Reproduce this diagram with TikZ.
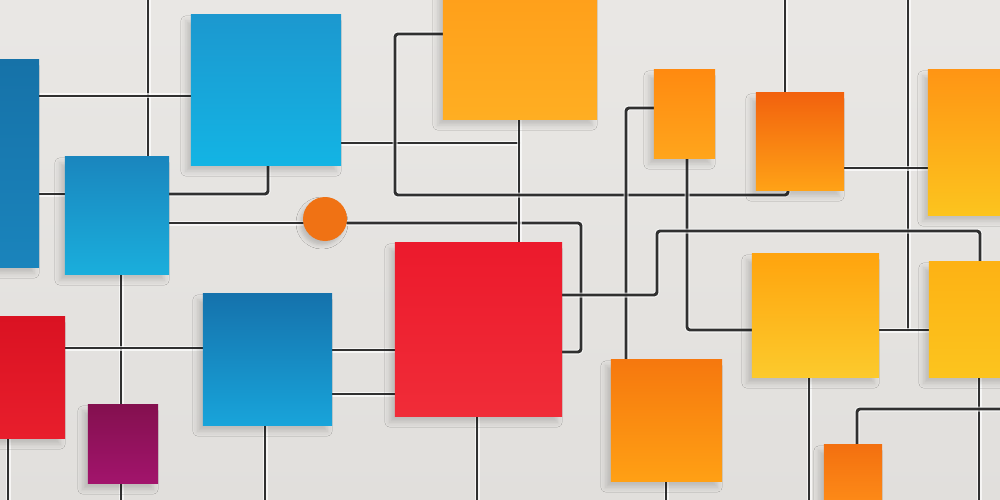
\documentclass[tikz,border=0pt]{standalone}
\usetikzlibrary{shadows.blur}
\definecolor{bgc}{HTML}{E8E6E3}
\definecolor{wirec}{HTML}{303030}
\definecolor{lbT}{HTML}{1672A8}\definecolor{lbB}{HTML}{1A84BC}
\definecolor{bbT}{HTML}{1C98CF}\definecolor{bbB}{HTML}{13B4E4}
\definecolor{mbT}{HTML}{1A86BE}\definecolor{mbB}{HTML}{1AAEDC}
\definecolor{otT}{HTML}{FF9F1A}\definecolor{otB}{HTML}{FFAE22}
\definecolor{osT}{HTML}{FF8A10}\definecolor{osB}{HTML}{FFA51C}
\definecolor{omT}{HTML}{F2620E}\definecolor{omB}{HTML}{FFA216}
\definecolor{roT}{HTML}{FF9514}\definecolor{roB}{HTML}{FCC41E}
\definecolor{rdT}{HTML}{EC1A2C}\definecolor{rdB}{HTML}{F02C38}
\definecolor{blT}{HTML}{1572AC}\definecolor{blB}{HTML}{18A4DA}
\definecolor{lrT}{HTML}{DA1222}\definecolor{lrB}{HTML}{E81E2C}
\definecolor{puT}{HTML}{84104F}\definecolor{puB}{HTML}{A2146C}
\definecolor{obT}{HTML}{F6780E}\definecolor{obB}{HTML}{FFA014}
\definecolor{yeT}{HTML}{FFA40E}\definecolor{yeB}{HTML}{FCCA2C}
\definecolor{ryT}{HTML}{FDB214}\definecolor{ryB}{HTML}{FCC41E}
\definecolor{soT}{HTML}{F37010}\definecolor{soB}{HTML}{FF8E18}
\definecolor{ciC}{HTML}{F07214}
\tikzset{
  wire/.style={draw=wirec, line width=2.9pt, rounded corners=3pt, line cap=round,
    preaction={draw=white, line width=5pt, opacity=.7}},
  note/.style={draw=none, inner sep=0pt, outer sep=0pt,
    blur shadow={shadow xshift=-5pt, shadow yshift=-6pt, shadow blur radius=5pt, shadow opacity=16}},
}
\newcommand{\drawnote}[1]{\path[note, top color=#1T, bottom color=#1B] (#1.north west) rectangle (#1.south east);}
\begin{document}
\begin{tikzpicture}[x=1pt,y=-1pt]
\useasboundingbox (0,0) rectangle (1000,500);
\begin{scope}
\clip (0,0) rectangle (1000,500);
\fill[top color=bgc!95!white, bottom color=bgc!97!black] (0,0) rectangle (1000,500);

\path
 node[minimum width=49pt,  minimum height=207pt] (lb) at (14.5,163.5) {}
 node[minimum width=150pt, minimum height=150pt] (bb) at (266,90) {}
 node[minimum width=104pt, minimum height=117pt] (mb) at (117,215.5) {}
 node[minimum width=154pt, minimum height=129pt] (ot) at (520,54.5) {}
 node[minimum width=61pt,  minimum height=88pt]  (os) at (684.5,114) {}
 node[minimum width=88pt,  minimum height=97pt]  (om) at (800,141.5) {}
 node[minimum width=82pt,  minimum height=145pt] (ro) at (969,142.5) {}
 node[minimum width=167pt, minimum height=173pt] (rd) at (478.5,329.5) {}
 node[minimum width=129pt, minimum height=131pt] (bl) at (267.5,359.5) {}
 node[minimum width=75pt,  minimum height=121pt] (lr) at (27.5,377.5) {}
 node[minimum width=70pt,  minimum height=78pt]  (pu) at (123,444) {}
 node[minimum width=111pt, minimum height=121pt] (ob) at (666.5,420.5) {}
 node[minimum width=127pt, minimum height=123pt] (ye) at (815.5,315.5) {}
 node[minimum width=81pt,  minimum height=115pt] (ry) at (969.5,319.5) {}
 node[minimum width=58pt,  minimum height=65pt]  (so) at (853,477.5) {}
 node[circle, minimum size=44pt, inner sep=0pt] (ci) at (325,219) {};

% connectors
\draw[wire] (148,-5) -- (mb.north -| 148,0);
\draw[wire] (lb.east |- 0,96) -- (bb.west |- 0,96);
\draw[wire] (lb.east |- 0,194) -- (mb.west |- 0,194);
\draw[wire] (mb.east |- 0,194) -- (268,194) -- (bb.south -| 268,0);
\draw[wire] (mb.east |- 0,223) -- (ci.west |- 0,223);
\draw[wire] (ci.east |- 0,223) -- (581,223) -- (581,352) -- (rd.east |- 0,352);
\draw[wire] (bb.east |- 0,143) -- (519,143);
\draw[wire] (ot.south -| 519,0) -- (rd.north -| 519,0);
\draw[wire] (ot.west |- 0,34) -- (395,34) -- (395,195) -- (788,195) -- (om.south -| 788,0);
\draw[wire] (785,-5) -- (om.north -| 785,0);
\draw[wire] (908,-5) -- (908,330);
\draw[wire] (om.east |- 0,168) -- (ro.west |- 0,168);
\draw[wire] (ye.east |- 0,330) -- (ry.west |- 0,330);
\draw[wire] (os.west |- 0,108) -- (626,108) -- (ob.north -| 626,0);
\draw[wire] (os.south -| 687,0) -- (687,330) -- (ye.west |- 0,330);
\draw[wire] (rd.east |- 0,295) -- (657,295) -- (657,231) -- (980,231) -- (ry.north -| 980,0);
\draw[wire] (ye.south -| 809,0) -- (809,505);
\draw[wire] (ry.south -| 979,0) -- (979,505);
\draw[wire] (1005,409) -- (857,409) -- (so.north -| 857,0);
\draw[wire] (ob.south -| 666,0) -- (666,505);
\draw[wire] (mb.south -| 121,0) -- (pu.north -| 121,0);
\draw[wire] (pu.south -| 121,0) -- (121,505);
\draw[wire] (lr.east |- 0,348) -- (bl.west |- 0,348);
\draw[wire] (lr.south -| 8,0) -- (8,505);
\draw[wire] (bl.south -| 265,0) -- (265,505);
\draw[wire] (bl.east |- 0,350) -- (rd.west |- 0,350);
\draw[wire] (bl.east |- 0,394) -- (rd.west |- 0,394);
\draw[wire] (rd.south -| 477,0) -- (477,505);

% notes
\drawnote{lb}\drawnote{bb}\drawnote{mb}\drawnote{ot}\drawnote{os}
\drawnote{om}\drawnote{ro}\drawnote{rd}\drawnote{bl}\drawnote{lr}
\drawnote{pu}\drawnote{ob}\drawnote{ye}\drawnote{ry}\drawnote{so}
\fill[ciC, blur shadow={shadow xshift=-3pt, shadow yshift=-4pt, shadow blur radius=4pt, shadow opacity=18}] (ci.center) circle (22);
\end{scope}
\end{tikzpicture}
\end{document}
